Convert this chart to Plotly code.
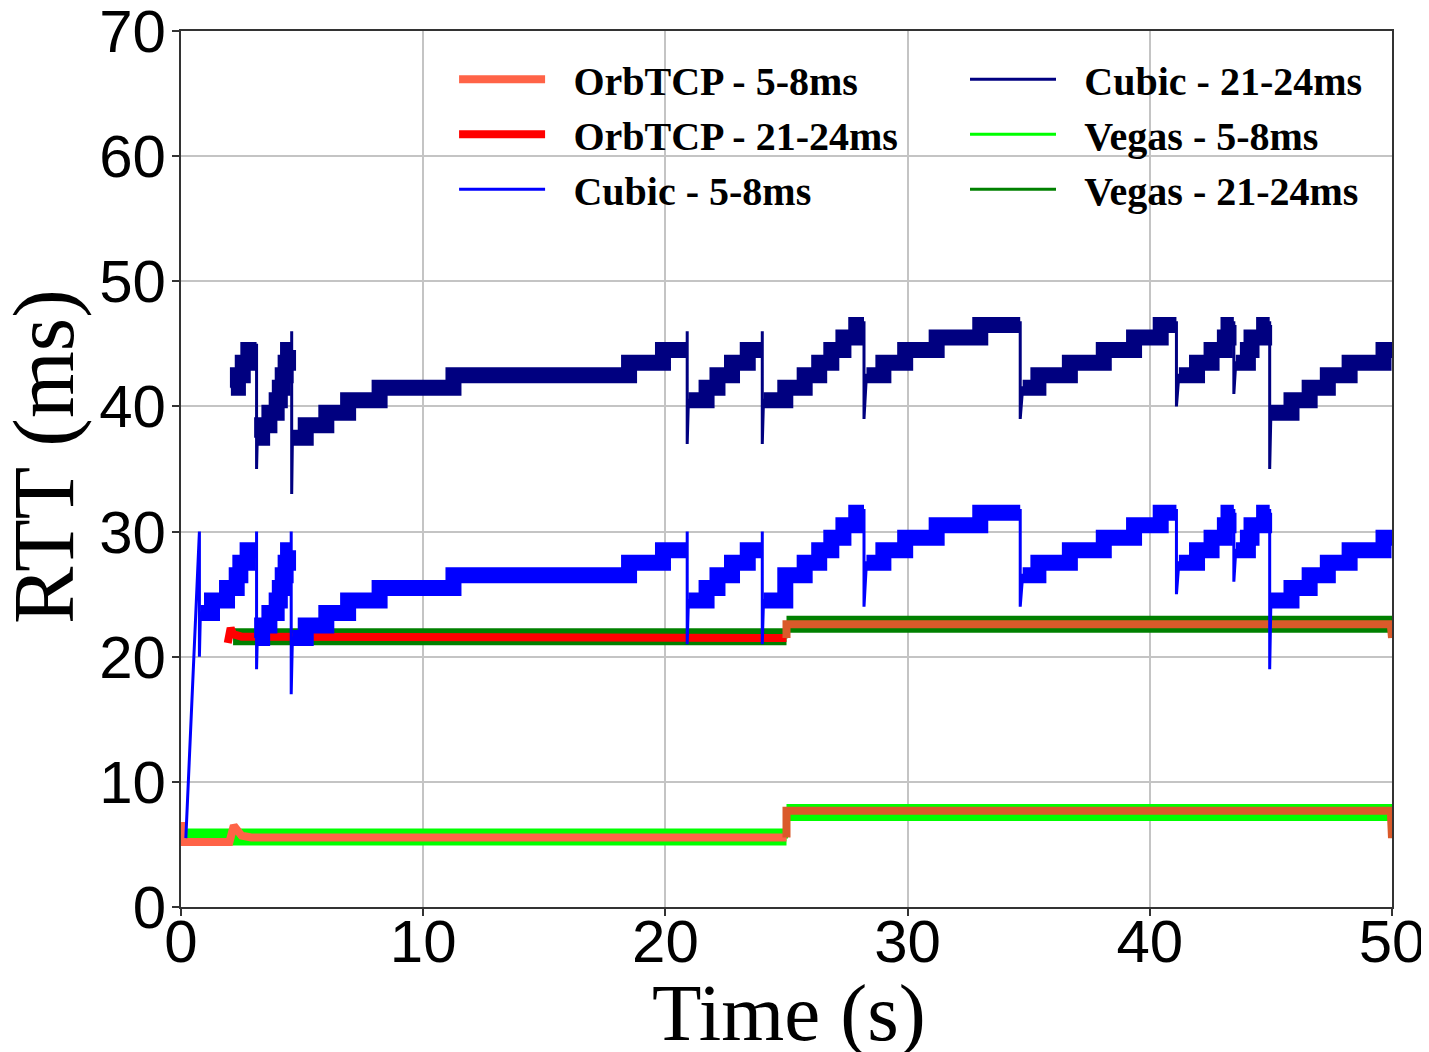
import plotly.graph_objects as go

# ---------------- data ----------------
# Cubic - 5-8ms : initial ramp, plateaus (start time, level) and drops (time, peak, minimum)
cubic5_ramp_t = [0.2, 0.76]
cubic5_ramp_v = [5.5, 30.0]
cubic5_step_t = [0.8, 1.28, 1.9, 2.3, 2.45, 2.75,
                 3.15, 3.35, 3.65, 3.95, 4.08, 4.2, 4.32, 4.42,
                 4.6, 5.15, 6.0, 6.9, 8.2, 11.25, 18.5, 19.9,
                 20.95, 21.7, 22.15, 22.75, 23.4,
                 24.05, 24.95, 25.75, 26.35, 26.85, 27.35, 27.88,
                 28.3, 29.0, 29.9, 31.2, 33.0,
                 34.75, 35.4, 36.7, 38.1, 39.35, 40.45,
                 41.2, 41.95, 42.55, 43.1, 43.25,
                 43.55, 44.05, 44.2, 44.72,
                 45.0, 45.85, 46.6, 47.35, 48.25, 49.65]
cubic5_step_v = [23.5, 24.5, 25.5, 26.5, 27.5, 28.5,
                 21.5, 22.5, 23.5, 24.5, 25.5, 26.5, 27.5, 28.5,
                 21.5, 22.5, 23.5, 24.5, 25.5, 26.5, 27.5, 28.5,
                 24.5, 25.5, 26.5, 27.5, 28.5,
                 24.5, 26.5, 27.5, 28.5, 29.5, 30.5, 31.5,
                 27.5, 28.5, 29.5, 30.5, 31.5,
                 26.5, 27.5, 28.5, 29.5, 30.5, 31.5,
                 27.5, 28.5, 29.5, 30.5, 31.5,
                 28.5, 29.5, 30.5, 31.5,
                 24.5, 25.5, 26.5, 27.5, 28.5, 29.5]
cubic5_drop_t = [0.76, 3.12, 4.55, 20.9, 24.0, 28.2, 34.65, 41.1, 43.47, 44.95]
cubic5_drop_peak = [30.0, 30.0, 30.0, 30.0, 30.0, 31.8, 31.8, 31.8, 31.8, 31.8]
cubic5_drop_min = [20.0, 19.0, 17.0, 21.0, 21.0, 24.0, 24.0, 25.0, 26.0, 19.0]

# Cubic - 21-24ms
cubic21_step_t = [2.06, 2.35, 2.55, 2.78,
                  3.15, 3.35, 3.65, 3.95, 4.08, 4.2, 4.32, 4.42,
                  4.6, 5.15, 6.0, 6.9, 8.2, 11.25, 18.5, 19.9,
                  20.95, 21.7, 22.15, 22.75, 23.4,
                  24.05, 24.95, 25.75, 26.35, 26.85, 27.35, 27.88,
                  28.3, 29.0, 29.9, 31.2, 33.0,
                  34.75, 35.4, 36.7, 38.1, 39.35, 40.45,
                  41.2, 41.95, 42.55, 43.1, 43.25,
                  43.55, 44.05, 44.2, 44.72,
                  45.0, 45.85, 46.6, 47.35, 48.25, 49.65]
cubic21_step_v = [41.5, 42.5, 43.5, 44.5,
                  37.5, 38.5, 39.5, 40.5, 41.5, 42.5, 43.5, 44.5,
                  37.5, 38.5, 39.5, 40.5, 41.5, 42.5, 43.5, 44.5,
                  40.5, 41.5, 42.5, 43.5, 44.5,
                  40.5, 41.5, 42.5, 43.5, 44.5, 45.5, 46.5,
                  42.5, 43.5, 44.5, 45.5, 46.5,
                  41.5, 42.5, 43.5, 44.5, 45.5, 46.5,
                  42.5, 43.5, 44.5, 45.5, 46.5,
                  43.5, 44.5, 45.5, 46.5,
                  39.5, 40.5, 41.5, 42.5, 43.5, 44.5]
cubic21_drop_t = [3.12, 4.57, 20.9, 24.0, 28.2, 34.65, 41.1, 43.47, 44.95]
cubic21_drop_peak = [45.0, 46.0, 46.0, 46.0, 46.8, 46.8, 46.8, 46.8, 46.8]
cubic21_drop_min = [35.0, 33.0, 37.0, 37.0, 39.0, 39.0, 40.0, 41.0, 35.0]

# Vegas (step series)
vegas5_t = [0.24, 25.0, 50.0]
vegas5_v = [5.6, 7.55, 7.55]
vegas21_t = [2.15, 25.0, 50.0]
vegas21_v = [21.6, 22.6, 22.6]

# OrbTCP
orb5_t = [0.0, 0.0, 0.1, 2.0, 2.18, 2.5, 2.9, 25.0, 25.0, 49.95, 50.0]
orb5_v = [6.8, 5.2, 5.2, 5.2, 6.5, 5.7, 5.55, 5.55, 7.7, 7.7, 5.5]
orb21_t = [1.93, 2.05, 2.15, 2.5, 25.0, 25.0, 49.95, 50.0]
orb21_v = [21.1, 22.3, 21.8, 21.6, 21.5, 22.6, 22.6, 21.5]

x_ticks = [0, 10, 20, 30, 40, 50]
y_ticks = [0, 10, 20, 30, 40, 50, 60, 70]
x_title = "Time (s)"
y_title = "RTT (ms)"

NAVY = "#000080"
BLUE = "#0000FF"
RED = "#FF0000"
TOMATO = "#FF6347"
LIME = "#00FF00"
GREEN = "#008000"
LATE = "#DA5A2A"
END_T = 50.0
SPLIT_T = 25.0
GAP = "\u00a0\u00a0\u200a"
SERIF = "Liberation Serif, Times New Roman"


def build_cubic(step_t, step_v, drop_t, drop_peak, drop_min, lead_t=(), lead_v=()):
    events = [(t, 0, v) for t, v in zip(step_t, step_v)]
    events += [(t, 1, (p, m)) for t, p, m in zip(drop_t, drop_peak, drop_min)]
    events.sort(key=lambda e: (e[0], e[1]))
    tx, ty = list(lead_t), list(lead_v)
    bx, by = [], []
    level = None
    for t, kind, val in events:
        if kind == 0:
            if level is not None:
                tx += [t, t]; ty += [level, val]
                bx += [t, t]; by += [level, val]
            else:
                tx.append(t); ty.append(val)
                bx.append(t); by.append(val)
            level = val
        else:
            p, m = val
            if level is not None:
                tx.append(t); ty.append(level)
                bx += [t, None]; by += [level, None]
            tx += [t, t]; ty += [p, m]
            level = None
    tx.append(END_T); ty.append(level)
    bx.append(END_T); by.append(level)
    return tx, ty, bx, by


def band_segments(ts, vs):
    bx, by = [], []
    for i in range(len(ts) - 1):
        bx += [ts[i], ts[i + 1], None]
        by += [vs[i], vs[i], None]
    return bx, by


def split(ts, vs):
    k = next(i for i, t in enumerate(ts) if t >= SPLIT_T)
    return ts[:k + 1], vs[:k + 1], ts[k:], vs[k:]


fig = go.Figure()

# Vegas bands + thin legend lines
for name, ts, vs, col, leg in [("Vegas - 5-8ms", vegas5_t, vegas5_v, LIME, "legend2"),
                               ("Vegas - 21-24ms", vegas21_t, vegas21_v, GREEN, "legend2")]:
    bx, by = band_segments(ts, vs)
    fig.add_trace(go.Scatter(x=bx, y=by, mode="lines", line=dict(color=col, width=17),
                             showlegend=False, hoverinfo="skip"))
    fig.add_trace(go.Scatter(x=ts, y=vs, mode="lines", name=GAP + name, legend=leg,
                             line=dict(color=col, width=3, shape="hv")))

# OrbTCP
for name, ts, vs, col, leg in [("OrbTCP - 5-8ms", orb5_t, orb5_v, TOMATO, "legend"),
                               ("OrbTCP - 21-24ms", orb21_t, orb21_v, RED, "legend")]:
    pt, pv, qt, qv = split(ts, vs)
    fig.add_trace(go.Scatter(x=pt, y=pv, mode="lines", name=GAP + name, legend=leg,
                             line=dict(color=col, width=8)))
    fig.add_trace(go.Scatter(x=qt, y=qv, mode="lines", showlegend=False,
                             line=dict(color=LATE, width=8)))

# Cubic
for name, args, lead, col, leg in [
        ("Cubic - 5-8ms", (cubic5_step_t, cubic5_step_v, cubic5_drop_t, cubic5_drop_peak, cubic5_drop_min),
         (cubic5_ramp_t, cubic5_ramp_v), BLUE, "legend"),
        ("Cubic - 21-24ms", (cubic21_step_t, cubic21_step_v, cubic21_drop_t, cubic21_drop_peak, cubic21_drop_min),
         ((), ()), NAVY, "legend2")]:
    tx, ty, bx, by = build_cubic(*args, lead_t=lead[0], lead_v=lead[1])
    fig.add_trace(go.Scatter(x=bx, y=by, mode="lines", line=dict(color=col, width=16),
                             showlegend=False, hoverinfo="skip", connectgaps=False))
    fig.add_trace(go.Scatter(x=tx, y=ty, mode="lines", name=GAP + name, legend=leg,
                             line=dict(color=col, width=3)))

# legend ordering: column 1 = OrbTCP 5-8, OrbTCP 21-24, Cubic 5-8 ; column 2 = Cubic 21-24, Vegas 5-8, Vegas 21-24
rank = {"OrbTCP - 5-8ms": 1, "OrbTCP - 21-24ms": 2, "Cubic - 5-8ms": 3,
        "Cubic - 21-24ms": 1, "Vegas - 5-8ms": 2, "Vegas - 21-24ms": 3}
for tr in fig.data:
    if tr.name:
        tr.legendrank = rank[tr.name.replace(GAP, "")]

axis_common = dict(showgrid=True, gridcolor="#c4c4c4", gridwidth=1.5,
                   showline=True, linecolor="#333333", linewidth=2, mirror=True,
                   ticks="outside", ticklen=7, tickwidth=2, tickcolor="#333333",
                   zeroline=False, automargin=False, ticklabeloverflow="allow",
                   tickfont=dict(family="Liberation Sans, Arial", size=60, color="black"))

legend_common = dict(orientation="v", yanchor="top", xanchor="left", itemwidth=86,
                     bgcolor="rgba(0,0,0,0)", traceorder="normal",
                     font=dict(family=SERIF, size=40, color="black", weight="bold"))

# the page body keeps an 8 px margin, so the figure is sized 8 px smaller and the margins shifted
fig.update_layout(
    width=1421, height=1044,
    margin=dict(l=173, r=37, t=23, b=145, autoexpand=False),
    paper_bgcolor="white", plot_bgcolor="white",
    xaxis=dict(range=[0, 50], tickvals=x_ticks, ticktext=[str(v) for v in x_ticks],
               ticklabelstandoff=-26, **axis_common),
    yaxis=dict(range=[0, 70], tickvals=y_ticks, ticktext=[str(v) for v in y_ticks],
               ticklabelstandoff=-6, **axis_common),
    legend=dict(x=0.2255, y=0.982, **legend_common),
    legend2=dict(x=0.6474, y=0.982, **legend_common),
    showlegend=True,
    annotations=[
        dict(text=x_title, xref="paper", yref="paper", x=0.5017, y=-0.1210,
             xanchor="center", yanchor="middle", showarrow=False,
             font=dict(family=SERIF, size=81, color="black")),
        dict(text=y_title, xref="paper", yref="paper", x=-0.1132, y=0.5148, textangle=-90,
             xanchor="center", yanchor="middle", showarrow=False,
             font=dict(family=SERIF, size=86, color="black")),
    ],
)

fig.write_html("out.html")
